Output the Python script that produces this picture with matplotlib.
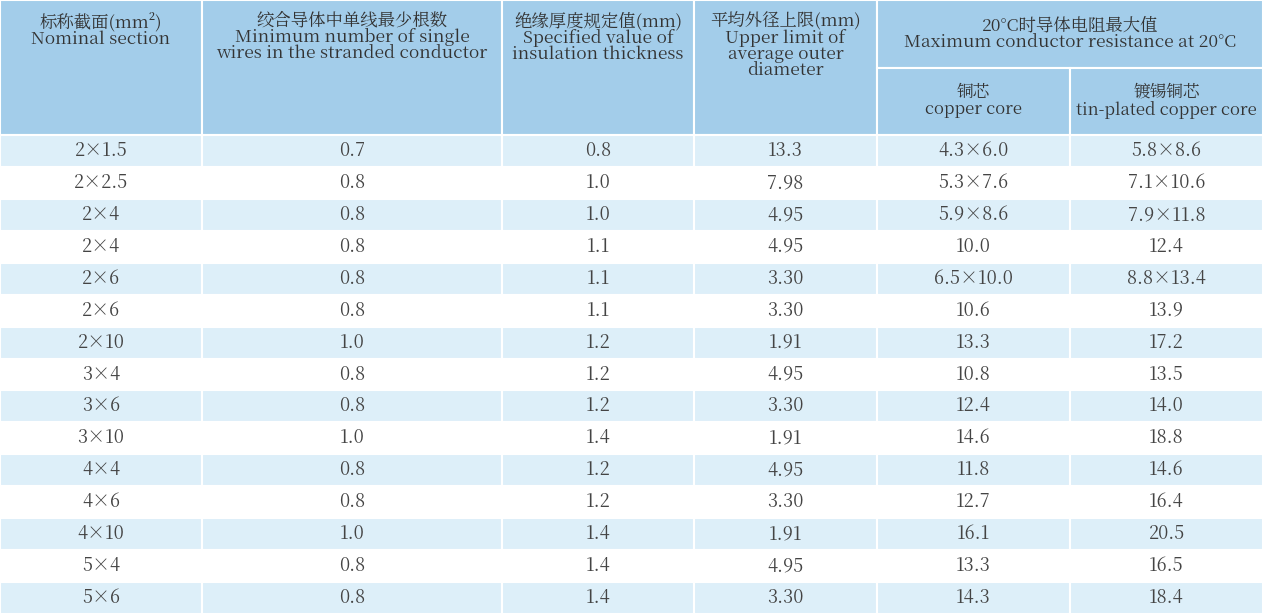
import matplotlib
matplotlib.use("Agg")
import matplotlib.pyplot as plt
from matplotlib.patches import Rectangle
from matplotlib import font_manager as fm

cjk = None
for f in fm.fontManager.ttflist:
    if "CJK" in f.name and ("SC" in f.name or cjk is None):
        cjk = f.name
        if "SC" in f.name:
            break
if cjk is None:
    import glob
    for p in glob.glob("/usr/share/fonts/**/*CJK*", recursive=True):
        try:
            fm.fontManager.addfont(p)
        except Exception:
            pass
    for f in fm.fontManager.ttflist:
        if "CJK" in f.name:
            cjk = f.name
            break
plt.rcParams["font.family"] = [cjk or "Noto Sans CJK SC", "DejaVu Sans"]

col_edges = [0, 202, 502, 694, 877, 1070, 1263]
header_main = [
    "标称截面(mm²)\nNominal section",
    "绞合导体中单线最少根数\nMinimum number of single\nwires in the stranded conductor",
    "绝缘厚度规定值(mm)\nSpecified value of\ninsulation thickness",
    "平均外径上限(mm)\nUpper limit of\naverage outer\ndiameter",
]
header_group = "20°C时导体电阻最大值\nMaximum conductor resistance at 20°C"
header_sub = ["铜芯\ncopper core", "镀锡铜芯\ntin-plated copper core"]

sections = ["2×1.5", "2×2.5", "2×4", "2×4", "2×6", "2×6", "2×10", "3×4", "3×6",
            "3×10", "4×4", "4×6", "4×10", "5×4", "5×6"]
min_wires = ["0.7", "0.8", "0.8", "0.8", "0.8", "0.8", "1.0", "0.8", "0.8", "1.0",
             "0.8", "0.8", "1.0", "0.8", "0.8"]
insulation = ["0.8", "1.0", "1.0", "1.1", "1.1", "1.1", "1.2", "1.2", "1.2", "1.4",
              "1.2", "1.2", "1.4", "1.4", "1.4"]
outer_diam = ["13.3", "7.98", "4.95", "4.95", "3.30", "3.30", "1.91", "4.95", "3.30",
              "1.91", "4.95", "3.30", "1.91", "4.95", "3.30"]
copper = ["4.3×6.0", "5.3×7.6", "5.9×8.6", "10.0", "6.5×10.0", "10.6", "13.3", "10.8",
          "12.4", "14.6", "11.8", "12.7", "16.1", "13.3", "14.3"]
tinned = ["5.8×8.6", "7.1×10.6", "7.9×11.8", "12.4", "8.8×13.4", "13.9", "17.2", "13.5",
          "14.0", "18.8", "14.6", "16.4", "20.5", "16.5", "18.4"]

W, H = 1263, 614
fig = plt.figure(figsize=(W / 100, H / 100), dpi=100)
ax = fig.add_axes([0, 0, 1, 1])
ax.set_xlim(0, W)
ax.set_ylim(H, 0)
ax.axis("off")

HEAD = "#a3cdea"
LIGHT = "#ddeff9"
LINE = "white"
hdr_h, sub_y = 135, 68
row_h = (H - hdr_h) / len(sections)

def cell(x0, y0, x1, y1, color):
    ax.add_patch(Rectangle((x0, y0), x1 - x0, y1 - y0, facecolor=color,
                           edgecolor=LINE, linewidth=1.5))

for i, t in enumerate(header_main):
    cell(col_edges[i], 0, col_edges[i + 1], hdr_h, HEAD)
    ax.text((col_edges[i] + col_edges[i + 1]) / 2, 12, t, ha="center", va="top",
            fontsize=12.5, color="#333333", linespacing=0.9)
cell(col_edges[4], 0, col_edges[6], sub_y, HEAD)
ax.text((col_edges[4] + col_edges[6]) / 2, 34, header_group, ha="center", va="center",
        fontsize=12.5, color="#333333", linespacing=0.9)
for j, t in enumerate(header_sub):
    x0, x1 = col_edges[4 + j], col_edges[5 + j]
    cell(x0, sub_y, x1, hdr_h, HEAD)
    ax.text((x0 + x1) / 2, 101, t, ha="center", va="center",
            fontsize=12, color="#333333", linespacing=1.0)

cols = [sections, min_wires, insulation, outer_diam, copper, tinned]
for r in range(len(sections)):
    y0 = hdr_h + r * row_h
    color = LIGHT if r % 2 == 0 else "white"
    for c, data in enumerate(cols):
        cell(col_edges[c], y0, col_edges[c + 1], y0 + row_h, color)
        ax.text((col_edges[c] + col_edges[c + 1]) / 2, y0 + row_h / 2, data[r],
                ha="center", va="center", fontsize=13, color="#444444")

fig.savefig("out.png", dpi=100)
